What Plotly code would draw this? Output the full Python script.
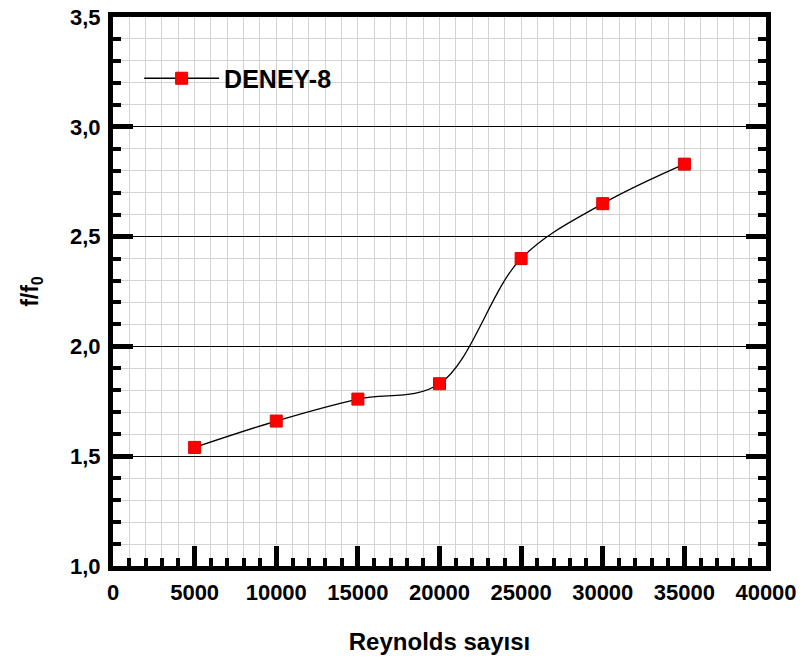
import plotly.graph_objects as go

reynolds = [5000, 10000, 15000, 20000, 25000, 30000, 35000]
f_ratio = [1.54, 1.66, 1.76, 1.83, 2.40, 2.65, 2.83]
series_name = "DENEY-8"

fig = go.Figure()
fig.add_trace(go.Scatter(
    x=reynolds, y=f_ratio, name=series_name, mode="lines+markers",
    line=dict(color="black", width=1.3, shape="spline", smoothing=1.0),
    marker=dict(symbol="square", size=12, color="#ff0000", line=dict(color="#e00000", width=1)),
))

font_main = "Arial, Liberation Sans, sans-serif"

fig.update_layout(
    width=805, height=658,
    margin=dict(l=113, r=39, t=17, b=92, autoexpand=False),
    plot_bgcolor="white", paper_bgcolor="white",
    separators=",.",
    showlegend=True,
    legend=dict(x=0.04, y=0.888, xanchor="left", yanchor="middle",
                bgcolor="rgba(0,0,0,0)",
                font=dict(family=font_main, size=25, color="black", weight="bold"),
                itemwidth=75),
    font=dict(family=font_main, color="black"),
)

fig.update_xaxes(
    range=[0, 40000], dtick=5000, tickformat="d", automargin=False,
    ticklabeloverflow="allow",
    showline=True, linecolor="black", linewidth=5, mirror=True,
    ticks="inside", ticklen=20, tickwidth=5, tickcolor="black",
    showgrid=True, gridcolor="#d3d3d3", gridwidth=1,
    minor=dict(dtick=1000, ticks="inside", ticklen=8, tickwidth=4, tickcolor="black",
               showgrid=True, gridcolor="#d3d3d3", gridwidth=1),
    tickfont=dict(family=font_main, size=22, color="black", weight="bold"),
    ticklabelstandoff=3,
    title=dict(text="Reynolds sayısı", font=dict(family=font_main, size=24, color="black", weight="bold"), standoff=30),
    zeroline=False,
)

fig.update_yaxes(
    range=[1.0, 3.5], dtick=0.5, tickformat=".1f", automargin=False,
    ticklabeloverflow="allow",
    showline=True, linecolor="black", linewidth=5, mirror="ticks",
    ticks="inside", ticklen=20, tickwidth=5, tickcolor="black",
    showgrid=True, gridcolor="black", gridwidth=1,
    minor=dict(dtick=0.1, ticks="inside", ticklen=8, tickwidth=4, tickcolor="black",
               showgrid=True, gridcolor="#d3d3d3", gridwidth=1),
    tickfont=dict(family=font_main, size=22, color="black", weight="bold"),
    ticklabelstandoff=3,
    title=dict(text="f/f<sub>0</sub>", font=dict(family=font_main, size=23, color="black", weight="bold"), standoff=26),
    zeroline=False,
)

fig.write_html("out.html", config={"displayModeBar": False},
               post_script="document.body.style.margin='0';")
